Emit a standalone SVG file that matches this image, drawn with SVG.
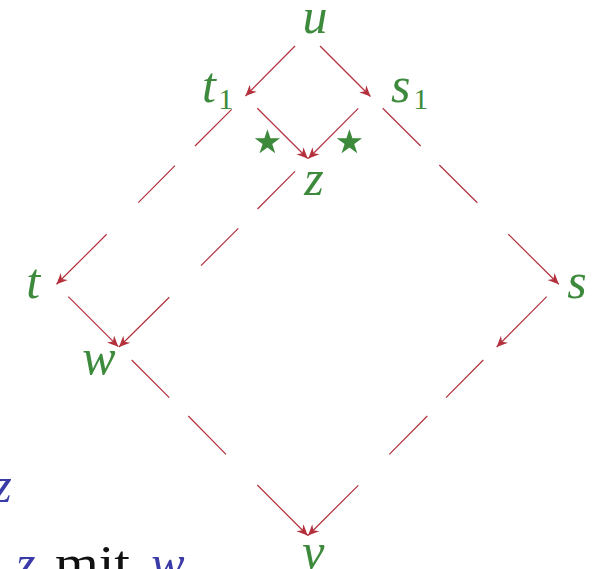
<svg xmlns="http://www.w3.org/2000/svg" width="593" height="569" viewBox="0 0 593 569">
<style>
.lbl{font-family:"Liberation Serif","DejaVu Serif",serif;font-style:italic;font-size:50px;fill:#3d8a3d;text-anchor:middle}
.sub{font-family:"Liberation Serif","DejaVu Serif",serif;font-size:30px;fill:#3d8a3d;text-anchor:middle}
.star{font-family:"DejaVu Sans",sans-serif;font-size:66px;fill:#3d8a3d;text-anchor:middle}
.blue{font-family:"Liberation Serif","DejaVu Serif",serif;font-style:italic;font-size:50px;fill:#3b3ba8;text-anchor:middle}
.blk{font-family:"Liberation Serif","DejaVu Serif",serif;font-size:50px;fill:#111111}
.arr{fill:none;stroke:#b3303c;stroke-width:1.2;marker-end:url(#head)}
</style>
<defs>
<marker id="head" viewBox="-12 -6 13 12" refX="0" refY="0" markerWidth="13" markerHeight="12" markerUnits="userSpaceOnUse" orient="auto">
<path d="M0,0 L-11,-5 L-7.5,0 L-11,5 Z" fill="#b3303c"/>
</marker>
</defs>
<g id="connectors">
<path class="arr" d="M295,46 L245.5,96"/>
<path class="arr" d="M320,46 L370.5,96.5"/>
<path class="arr" d="M257.3,108.3 L307.7,158.5"/>
<path class="arr" d="M358.3,108.3 L308.3,158.5"/>
<path class="arr" d="M231.7,109.3 L195,146 M175,165.7 L138.3,202.7 M106.7,234.3 L56.5,284.3"/>
<path class="arr" d="M382.7,108.3 L420.7,146 M439.3,165 L477.3,202.7 M508.3,234.3 L558.8,284.3"/>
<path class="arr" d="M295,171.3 L257.5,209 M238.3,228.3 L201,265.7 M169.3,297.3 L119,347"/>
<path class="arr" d="M68.3,296.7 L118.3,346.7"/>
<path class="arr" d="M131.7,360 L169.3,397.7 M188.3,416 L226,454.3 M257.3,485 L307.7,535.5"/>
<path class="arr" d="M546.7,296.7 L496.7,347"/>
<path class="arr" d="M483.3,360 L446,397.7 M427.3,416 L389.3,454.3 M358.3,485.3 L308,535.5"/>
</g>
<g id="node-u"><text class="lbl" x="315" y="33">u</text></g>
<g id="node-t1"><text class="lbl" x="209" y="101.7">t</text><text class="sub" x="225.8" y="109.3">1</text></g>
<g id="node-s1"><text class="lbl" x="400.8" y="102">s</text><text class="sub" x="420.7" y="109.3">1</text></g>
<g id="node-z"><text class="lbl" x="314" y="195">z</text></g>
<g id="node-t"><text class="lbl" x="33.3" y="298.3">t</text></g>
<g id="node-s"><text class="lbl" x="577" y="298.3">s</text></g>
<g id="node-w"><text class="lbl" x="99" y="374">w</text></g>
<g id="node-v"><text class="lbl" x="313.3" y="568">v</text></g>
<g id="stars"><text class="star" x="267.3" y="163">⋆</text><text class="star" x="349.3" y="163">⋆</text></g>
<g id="caption">
<text class="blue" x="2" y="501.7">z</text>
<text class="blue" x="25.8" y="580">z</text>
<text class="blk" x="55" y="580" textLength="75" lengthAdjust="spacingAndGlyphs">mit</text>
<text class="blue" x="168" y="580">w</text>
</g>
</svg>
